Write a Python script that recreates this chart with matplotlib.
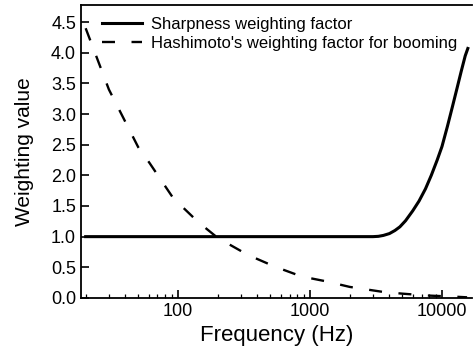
import numpy as np
import matplotlib
matplotlib.use('Agg')
import matplotlib.pyplot as plt
from matplotlib.ticker import FixedLocator, FixedFormatter, LogLocator, NullFormatter

plt.rcParams['font.family'] = ['Liberation Sans', 'DejaVu Sans']

# 값은 그림에서 읽음
sharp_freq = [20, 100, 1000, 2500, 3000, 3300, 3600, 4000, 4400, 4800, 5300, 6000, 6700,
              7500, 8300, 9200, 10000, 11000, 12000, 13000, 14000, 15000, 15700]
sharp_val = [1.0, 1.0, 1.0, 1.0, 1.0, 1.005, 1.02, 1.05, 1.1, 1.16, 1.26, 1.42, 1.58,
             1.78, 2.0, 2.25, 2.47, 2.8, 3.12, 3.42, 3.7, 3.95, 4.07]

hashi_freq = [20, 30, 50, 61, 92, 142, 200, 340, 543, 865, 1330, 2000, 3530, 5000, 7600, 12700, 15500]
hashi_val = [4.4, 3.4, 2.46, 2.2, 1.63, 1.24, 0.98, 0.70, 0.51, 0.35, 0.27, 0.18, 0.10, 0.07, 0.04, 0.02, 0.01]

x_ticks = [100, 1000, 10000]
y_ticks = [0.0, 0.5, 1.0, 1.5, 2.0, 2.5, 3.0, 3.5, 4.0, 4.5]

fig = plt.figure(figsize=(4.73, 3.53), dpi=100)
ax = fig.add_axes([0.171, 0.156, 0.827, 0.830])

ax.plot(sharp_freq, sharp_val, color='black', linewidth=2.2, label='Sharpness weighting factor')
ax.plot(hashi_freq, hashi_val, color='black', linewidth=1.7, linestyle=(0, (5.5, 7)),
        label="Hashimoto's weighting factor for booming")

ax.set_xscale('log')
ax.set_xlim(18.4, 16900)
ax.set_ylim(0, 4.78)

ax.xaxis.set_major_locator(FixedLocator(x_ticks))
ax.xaxis.set_major_formatter(FixedFormatter([str(t) for t in x_ticks]))
ax.xaxis.set_minor_locator(LogLocator(base=10, subs=np.arange(2, 10)))
ax.xaxis.set_minor_formatter(NullFormatter())
ax.set_yticks(y_ticks)
ax.set_yticklabels([f"{t:.1f}" for t in y_ticks])

ax.tick_params(axis='both', which='major', direction='in', length=6, width=1.2, labelsize=13)
ax.tick_params(axis='both', which='minor', direction='in', length=3, width=0.9)
ax.spines['right'].set_visible(False)
for s in ['left', 'bottom', 'top']:
    ax.spines[s].set_linewidth(1.3)

ax.set_xlabel('Frequency (Hz)', fontsize=16, labelpad=4)
ax.set_ylabel('Weighting value', fontsize=15, labelpad=12)

ax.legend(loc='upper left', bbox_to_anchor=(0.054, 0.958), frameon=False, fontsize=12,
          handlelength=2.4, handletextpad=0.55, labelspacing=0.2,
          borderpad=0, borderaxespad=0)

fig.savefig('out.png', dpi=100)
